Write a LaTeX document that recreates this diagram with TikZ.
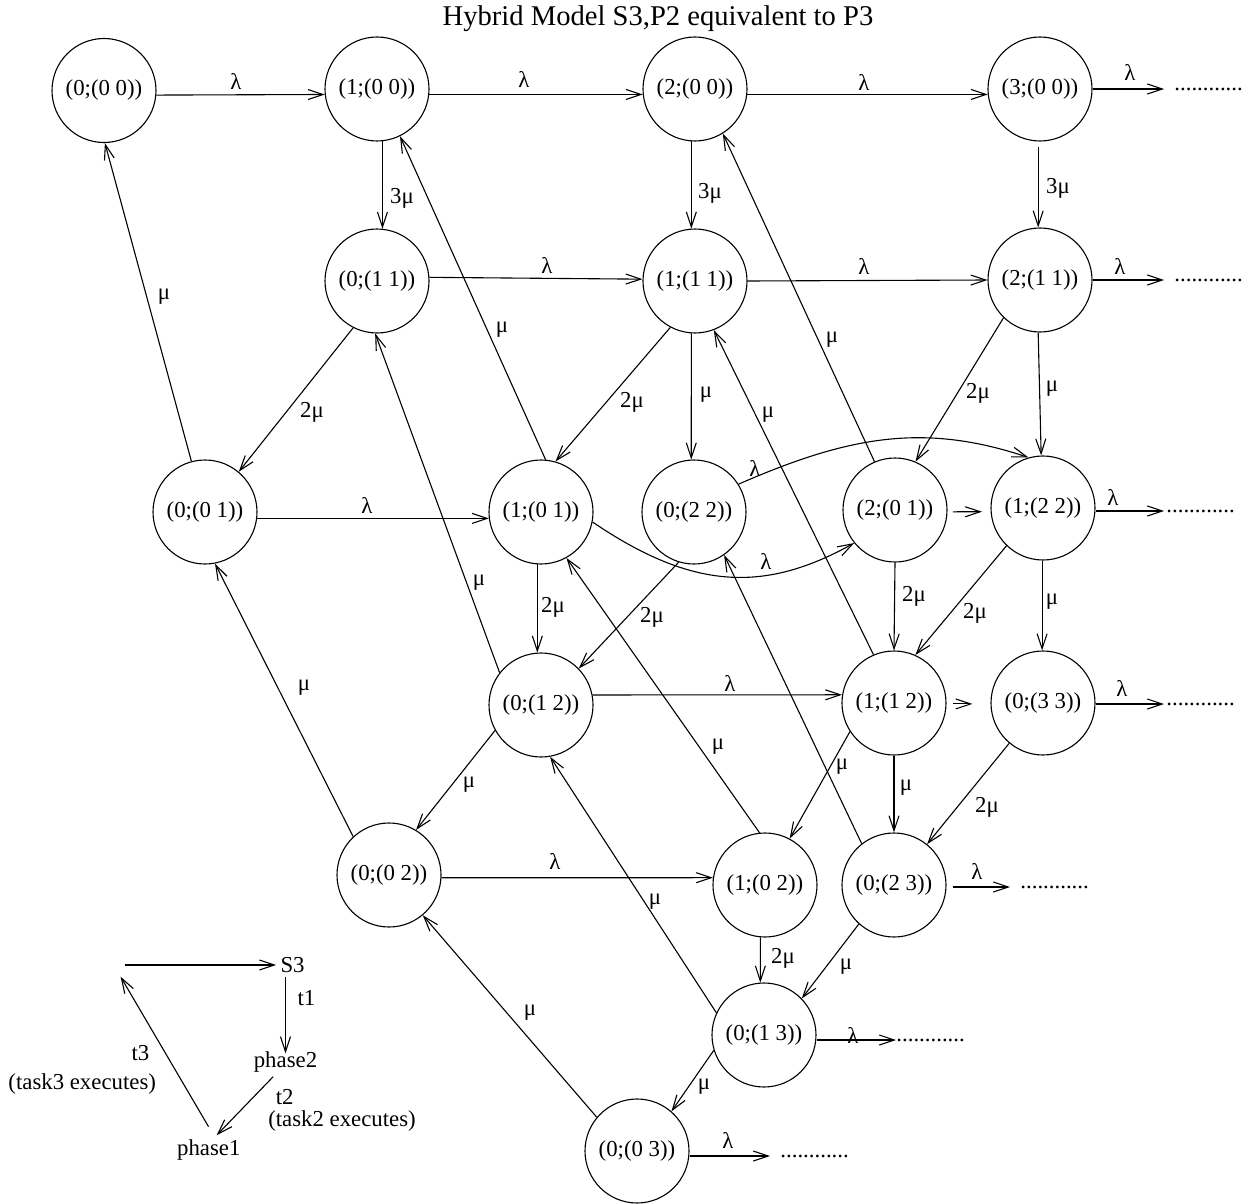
\documentclass[tikz,border=0pt]{standalone}
\usepackage{fontspec}
\setmainfont{Liberation Serif}
\usetikzlibrary{arrows.meta}
\begin{document}
\begin{tikzpicture}[x=0.5pt,y=-0.5pt,
  every node/.style={font=\fontsize{11.4}{13.7}\selectfont},
  state/.style={circle, draw, line width=0.55pt, minimum size=52pt, inner sep=0pt},
  lbl/.style={inner sep=0pt},
  txt/.style={inner sep=2pt},
  dots/.style={inner sep=0pt, anchor=west},
  arr/.style={line width=0.55pt, -{Straight Barb[length=7.5pt,width=5pt]}},
]
\useasboundingbox (0,0) rectangle (1248,1204);

% title
\node[font=\fontsize{14.3}{17}\selectfont, anchor=base, inner sep=0pt] (title) at (658,26) {Hybrid Model S3,P2 equivalent to P3};

% states
\node[state] (N00)  at (104,90.5) {(0;(0 0))};
\node[state] (N10)  at (377,89)   {(1;(0 0))};
\node[state] (N20)  at (695,89)   {(2;(0 0))};
\node[state] (N30)  at (1040,89)  {(3;(0 0))};
\node[state] (N011) at (377,281)  {(0;(1 1))};
\node[state] (N111) at (695,281)  {(1;(1 1))};
\node[state] (N211) at (1040,280) {(2;(1 1))};
\node[state] (N001) at (205,512)  {(0;(0 1))};
\node[state] (N101) at (541,512)  {(1;(0 1))};
\node[state] (N022) at (694,512)  {(0;(2 2))};
\node[state] (N201) at (895,510)  {(2;(0 1))};
\node[state] (N122) at (1043,508) {(1;(2 2))};
\node[state] (N012) at (541,705)  {(0;(1 2))};
\node[state] (N112) at (894,703)  {(1;(1 2))};
\node[state] (N033) at (1043,703) {(0;(3 3))};
\node[state] (N002) at (389,875)  {(0;(0 2))};
\node[state] (N102) at (765,885)  {(1;(0 2))};
\node[state] (N023) at (894,885)  {(0;(2 3))};
\node[state] (N013) at (764,1035) {(0;(1 3))};
\node[state] (N003) at (637,1151) {(0;(0 3))};

% continuation dots
\node[dots] (D30)  at (1174,89)   {............};
\node[dots] (D211) at (1174,280)  {............};
\node[dots] (D122) at (1166,511)  {............};
\node[dots] (D033) at (1166,704)  {............};
\node[dots] (D023) at (1020,887)  {............};
\node[dots] (D013) at (896,1040)  {............};
\node[dots] (D003) at (780,1156)  {............};

% row 1
\draw[arr] (N00.-5) -- (N10.-174);
\draw[arr] (N10.-6) -- (N20.-174);
\draw[arr] (N20.-6) -- (N30.-174);
\draw[arr, shorten >=5pt] (N30.east |- D30.west) -- (D30.west);
\draw[arr] (N10.-84) -- (N011.84);
\draw[arr] (N20.-94) -- (N111.94);
\draw[arr, shorten <=2.5pt] (N30.-92) -- (N211.92);

% row 2
\draw[arr] (N011.4) -- (N111.178);
\draw[arr] (N111.east) -- (N211.west);
\draw[arr, shorten >=5pt] (N211.east |- D211.west) -- (D211.west);

% row 3
\draw[arr] (N001.105) -- (N00.-89);
\draw[arr] (N011.-117) -- (N001.50);
\draw[arr] (N001.-7) -- (N101.-173);
\draw[arr] (N101.85) -- (N10.-64);
\draw[arr] (N111.-118) -- (N101.74);
\draw[arr] (N111.-94) -- (N022.93);
\draw[arr] (N201.113) -- (N20.-58);
\draw[arr] (N022.32) .. controls +(110,-48) and +(-105,-35) .. (N122.106);
\draw[arr] (N101.-11) .. controls +(100,68) and +(-90,50) .. (N201.-141);
\draw[arr, shorten <=2.7pt, shorten >=4.3pt] (N201.-2) -- (N122.-176);
\draw[arr] (N211.-134) -- (N201.67);
\draw[arr] (N211.-92) -- (N122.92);
\draw[arr, shorten >=1pt] (N122.east |- D122.west) -- (D122.west);

% row 4
\draw[arr] (N101.-94) -- (N012.94);
\draw[arr] (N022.-107) -- (N012.44);
\draw[arr] (N012.142) -- (N011.-92);
\draw[arr] (N012.11) -- (N112.171);
\draw[arr] (N112.113) -- (N111.-69);
\draw[arr] (N201.-90) -- (N112.90);
\draw[arr] (N122.-134) -- (N112.66);
\draw[arr] (N122.-91) -- (N033.91);
\draw[arr, shorten <=3.3pt, shorten >=9pt] (N112.-1) -- (N033.-179);
\draw[arr, shorten >=1pt] (N033.east |- D033.west) -- (D033.west);

% row 5
\draw[arr] (N002.133) -- (N001.-79);
\draw[arr] (N012.-151) -- (N002.59);
\draw[arr] (N002.-3) -- (N102.172);
\draw[arr] (N102.96) -- (N101.-61);
\draw[arr] (N112.-147) -- (N102.62);
\draw[arr] (N112.-90) -- (N023.90);
\draw[arr] (N033.-130) -- (N023.51);
\draw[arr] (N023.128) -- (N022.-55);
\draw[arr, shorten <=3pt, shorten >=5pt] (N023.east |- D023.west) -- (D023.west);

% rows 6 and 7
\draw[arr] (N102.-95) -- (N013.94);
\draw[arr] (N023.-132) -- (N013.44);
\draw[arr] (N013.155) -- (N012.-80);
\draw[arr] (N013.east |- D013.west) -- (D013.west);
\draw[arr] (N013.-163) -- (N003.49);
\draw[arr] (N003.140) -- (N002.-50);
\draw[arr, shorten >=5pt] (N003.east |- D003.west) -- (D003.west);

% rate labels: lambda
\node[lbl] (l1)  at (236,81)   {λ};
\node[lbl] (l2)  at (524,79)   {λ};
\node[lbl] (l3)  at (864,82)   {λ};
\node[lbl] (l4)  at (1130,72)  {λ};
\node[lbl] (l5)  at (547,265)  {λ};
\node[lbl] (l6)  at (864,266)  {λ};
\node[lbl] (l7)  at (1120,266) {λ};
\node[lbl] (l8)  at (367,505)  {λ};
\node[lbl] (l9)  at (755,468)  {λ};
\node[lbl] (l10) at (766,561)  {λ};
\node[lbl] (l11) at (1113,497) {λ};
\node[lbl] (l12) at (730,683)  {λ};
\node[lbl] (l13) at (1122,688) {λ};
\node[lbl] (l14) at (555,861)  {λ};
\node[lbl] (l15) at (977,871)  {λ};
\node[lbl] (l16) at (853,1035) {λ};
\node[lbl] (l17) at (728,1140) {λ};

% rate labels: mu multiples
\node[lbl] (m1) at (402,198) {3μ};
\node[lbl] (m2) at (710,193) {3μ};
\node[lbl] (m3) at (1058,188) {3μ};
\node[lbl] (m4) at (312,412) {2μ};
\node[lbl] (m5) at (632,402) {2μ};
\node[lbl] (m6) at (978,393) {2μ};
\node[lbl] (m7) at (553,607) {2μ};
\node[lbl] (m8) at (652,617) {2μ};
\node[lbl] (m9) at (914,596) {2μ};
\node[lbl] (m10) at (975,613) {2μ};
\node[lbl] (m11) at (987,807) {2μ};
\node[lbl] (m12) at (783,958) {2μ};

% rate labels: mu
\node[lbl] (u1)  at (164,297)  {μ};
\node[lbl] (u2)  at (502,330)  {μ};
\node[lbl] (u3)  at (706,395)  {μ};
\node[lbl] (u4)  at (832,340)  {μ};
\node[lbl] (u5)  at (1052,389) {μ};
\node[lbl] (u6)  at (479,583)  {μ};
\node[lbl] (u7)  at (768,415)  {μ};
\node[lbl] (u8)  at (1052,602) {μ};
\node[lbl] (u9)  at (304,688)  {μ};
\node[lbl] (u10) at (469,785)  {μ};
\node[lbl] (u11) at (718,747)  {μ};
\node[lbl] (u12) at (842,767)  {μ};
\node[lbl] (u13) at (906,788)  {μ};
\node[lbl] (u14) at (846,967)  {μ};
\node[lbl] (u15) at (655,902)  {μ};
\node[lbl] (u16) at (704,1087) {μ};
\node[lbl] (u17) at (530,1013) {μ};

% phase cycle of S3
\node[txt] (S3)  at (292.6,965) {S3};
\node[txt] (ph2) at (285.5,1062) {phase2};
\node[txt] (ph1) at (208.8,1150) {phase1};
\coordinate (cyc1) at (124.6,965);
\coordinate (cyc2) at (120.6,976.7);
\draw[arr] (cyc1) -- (S3);
\draw[arr, shorten >=-3pt] (ph2.north |- S3.south) -- (ph2.north);
\draw[arr] (ph2.-130) -- (ph1.62);
\draw[arr, shorten <=5pt] (ph1.72) -- (cyc2);
\node[lbl] (t1) at (306.4,998.3) {t1};
\node[lbl] (t2) at (284.7,1097.5) {t2};
\node[lbl] (t2x) at (342,1121.5) {(task2 executes)};
\node[lbl] (t3) at (140.4,1053.3) {t3};
\node[lbl] (t3x) at (82.2,1084) {(task3 executes)};
\end{tikzpicture}
\end{document}
